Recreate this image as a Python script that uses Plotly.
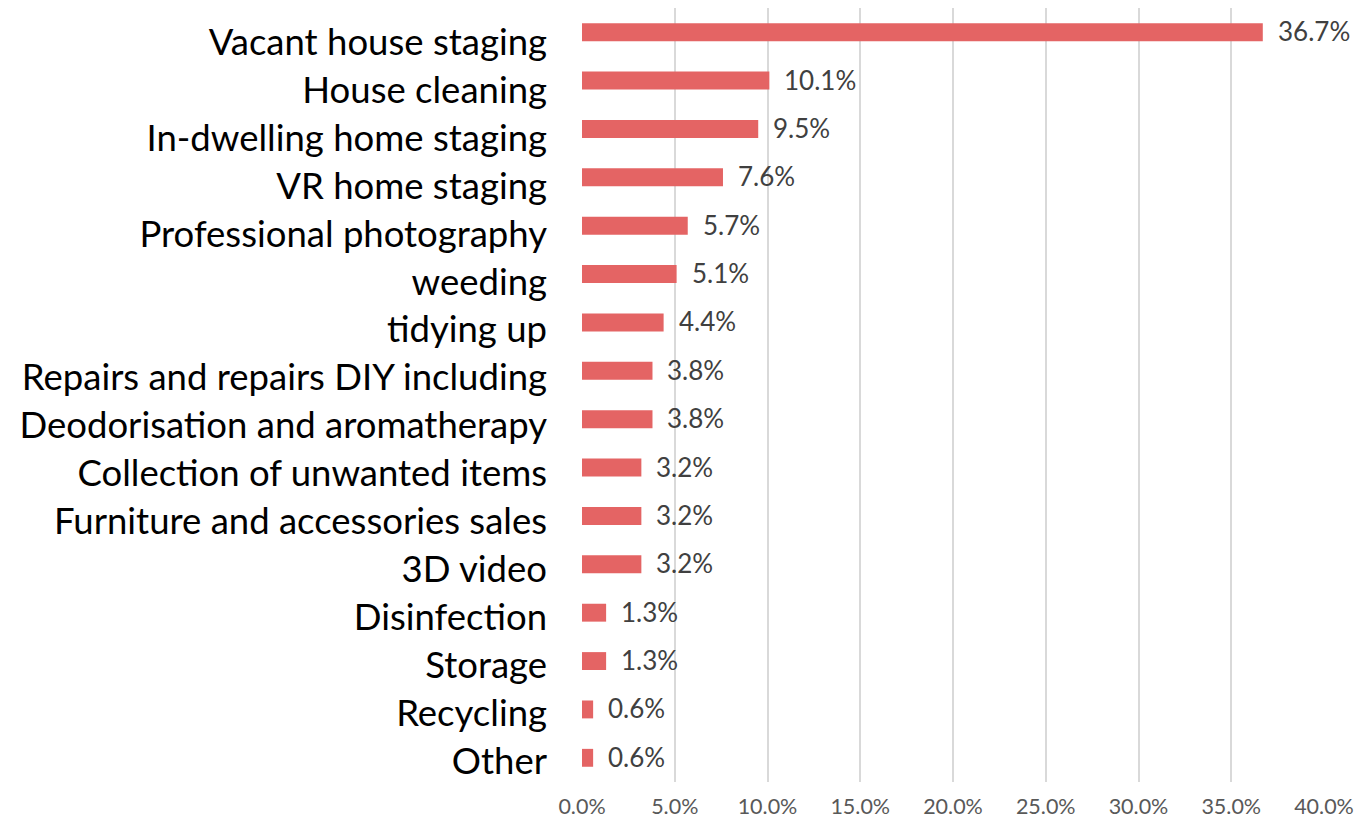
import plotly.graph_objects as go

# Services offered, share of responses (%)
services = [
    "Vacant house staging", "House cleaning", "In-dwelling home staging",
    "VR home staging", "Professional photography", "weeding", "tidying up",
    "Repairs and repairs DIY including", "Deodorisation and aromatherapy",
    "Collection of unwanted items", "Furniture and accessories sales",
    "3D video", "Disinfection", "Storage", "Recycling", "Other",
]
shares = [36.7, 10.1, 9.5, 7.6, 5.7, 5.1, 4.4, 3.8, 3.8, 3.2, 3.2, 3.2, 1.3, 1.3, 0.6, 0.6]
x_ticks = [0, 5, 10, 15, 20, 25, 30, 35, 40]
x_tick_text = [f"{v:.1f}%" for v in x_ticks]

BAR = "#E46464"
FONT = "Lato, Open Sans, sans-serif"
order = services[::-1]

fig = go.Figure()
fig.add_trace(go.Bar(
    x=shares,
    y=services,
    orientation="h",
    marker=dict(color=BAR, line=dict(width=0)),
    hoverinfo="skip",
))
# invisible companion trace that carries the category labels on a
# slightly tighter label axis
fig.add_trace(go.Scatter(
    x=shares, y=services, yaxis="y2", mode="markers",
    marker=dict(opacity=0), hoverinfo="skip", showlegend=False,
))

for s, v in zip(services, shares):
    fig.add_annotation(
        x=v, y=s, text=f"{v:.1f}%", showarrow=False,
        xanchor="left", xshift=13, yshift=1,
        font=dict(family=FONT, size=26, color="#404040"),
    )

fig.update_layout(
    width=1367, height=827,
    margin=dict(l=582, r=43, t=8, b=45),
    paper_bgcolor="white", plot_bgcolor="white",
    bargap=0.63, showlegend=False,
    font=dict(family=FONT),
    yaxis=dict(
        categoryorder="array", categoryarray=order,
        range=[-0.5, len(order) - 0.5],
        showgrid=False, zeroline=False, showline=False, ticks="",
        showticklabels=False,
    ),
    yaxis2=dict(
        overlaying="y", side="left",
        categoryorder="array", categoryarray=order,
        range=[-0.438, 15.711],
        showgrid=False, zeroline=False, showline=False, ticks="",
        tickfont=dict(family=FONT, size=36.5, color="#000000"),
        ticklabelstandoff=34,
    ),
)
fig.update_xaxes(
    range=[0, 40], tickvals=x_ticks, ticktext=x_tick_text,
    showgrid=True, gridcolor="#D9D9D9", gridwidth=1.5,
    zeroline=False, showline=False,
    tickfont=dict(family=FONT, size=21.5, color="#595959"),
    ticks="", ticklabelstandoff=9,
)

fig.write_html("out.html")
